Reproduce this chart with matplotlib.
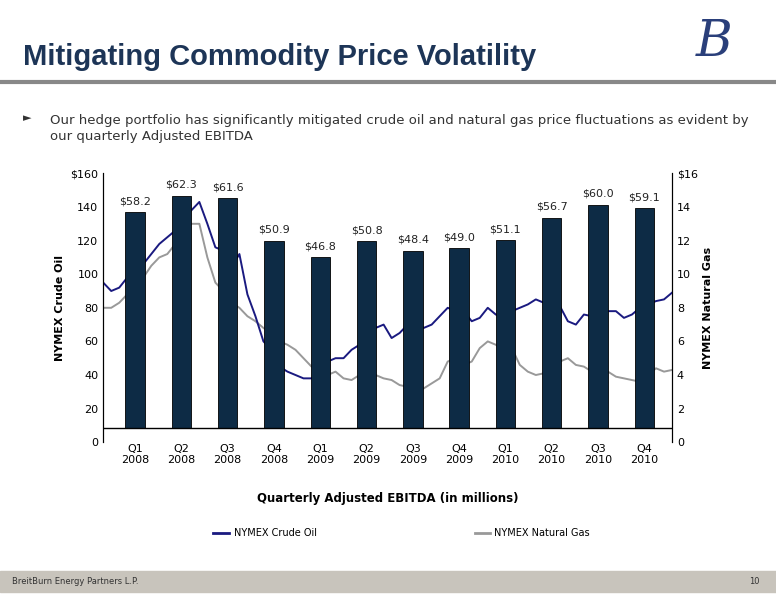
import matplotlib.pyplot as plt
import numpy as np

quarters = ['Q1\n2008', 'Q2\n2008', 'Q3\n2008', 'Q4\n2008', 'Q1\n2009', 'Q2\n2009',
            'Q3\n2009', 'Q4\n2009', 'Q1\n2010', 'Q2\n2010', 'Q3\n2010', 'Q4\n2010']
ebitda = [58.2, 62.3, 61.6, 50.9, 46.8, 50.8, 48.4, 49.0, 51.1, 56.7, 60.0, 59.1]

# half-monthly NYMEX crude oil ($/bbl), Jan 2008 - Dec 2010
oil = [95, 90, 92, 98, 104, 106, 112, 118, 122, 126, 133, 138, 143, 130, 116, 114, 104, 112, 88, 75, 60, 55, 45, 42,
       40, 38, 38, 42, 48, 50, 50, 55, 58, 62, 68, 70, 62, 65, 70, 72, 68, 70, 75, 80, 78, 78, 72, 74,
       80, 76, 74, 78, 80, 82, 85, 83, 80, 81, 72, 70, 76, 75, 76, 78, 78, 74, 76, 80, 82, 84, 85, 89]
# half-monthly NYMEX natural gas ($/MMBtu)
gas = [8, 8, 8.3, 8.8, 9.5, 9.8, 10.5, 11, 11.2, 11.8, 12.5, 13, 13, 11, 9.5, 9, 8.3, 8, 7.5, 7.2, 6.8, 6.5, 6, 5.8,
       5.5, 5, 4.5, 4.2, 4, 4.2, 3.8, 3.7, 4, 4.3, 4, 3.8, 3.7, 3.4, 3.3, 3, 3.2, 3.5, 3.8, 4.8, 5, 4.6, 4.8, 5.6,
       6, 5.8, 5.5, 5.6, 4.6, 4.2, 4, 4.1, 4.3, 4.8, 5, 4.6, 4.5, 4.2, 4.1, 4.2, 3.9, 3.8, 3.7, 3.6, 4.0, 4.4, 4.2, 4.3]

navy = '#0d2b45'
fig = plt.figure(figsize=(7.76, 6), dpi=100)
fig.patch.set_facecolor('white')

# header
fig.text(0.03, 0.905, 'Mitigating Commodity Price Volatility', fontsize=21, fontweight='bold',
         color='#1d3557', family='Liberation Sans', va='center')
fig.text(0.92, 0.93, 'B', fontsize=36, style='italic', color='#2a3f7a', family='DejaVu Serif',
         ha='center', va='center')
fig.add_artist(plt.Line2D([0, 1], [0.863, 0.863], color='#888888', lw=3))
fig.text(0.03, 0.803, '►', fontsize=8, color='#333333', va='center')
fig.text(0.065, 0.81, 'Our hedge portfolio has significantly mitigated crude oil and natural gas price fluctuations as evident by\nour quarterly Adjusted EBITDA',
         fontsize=9.5, color='#333333', va='top', linespacing=1.3)

# footer
fig.add_artist(plt.Rectangle((0, 0.013), 1, 0.035, color='#c8c4bc'))
fig.text(0.015, 0.03, 'BreitBurn Energy Partners L.P.', fontsize=6, color='#333333', va='center')
fig.text(0.965, 0.03, '10', fontsize=6, color='#333333', va='center')

ax = fig.add_axes([0.133, 0.263, 0.733, 0.448])
x_days = np.linspace(-0.19, 12.1, len(oil))
ax.plot(x_days, oil, color='#1a1a80', lw=1.4)
ax.set_ylim(0, 160)
ax.set_xlim(-0.19, 12.1)
ax.set_yticks(range(0, 161, 20))
ax.set_yticklabels(['0', '20', '40', '60', '80', '100', '120', '140', '$160'])
ax.set_ylabel('NYMEX Crude Oil', fontsize=8, fontweight='bold')

ax2 = ax.twinx()
ax2.plot(x_days, gas, color='#999999', lw=1.4)
ax2.set_ylim(0, 16)
ax2.set_yticks(range(0, 17, 2))
ax2.set_yticklabels(['0', '2', '4', '6', '8', '10', '12', '14', '$16'])
ax2.set_ylabel('NYMEX Natural Gas', fontsize=8, fontweight='bold')

ax3 = ax.twinx()
ax3.set_ylim(0, 160 / 2.355)
base = 8.3 / 2.355
xb = np.arange(len(ebitda)) + 0.5
ax3.bar(xb, [v - base for v in ebitda], bottom=base, width=0.42, color=navy, edgecolor='black', lw=0.6)
for xi, v in zip(xb, ebitda):
    ax3.text(xi, v + 1.5, f'${v:.1f}', ha='center', va='bottom', fontsize=8, color='#222222')
ax3.axhline(base, color='black', lw=1)
ax3.set_yticks([])

ax2.set_zorder(0)
ax.set_zorder(1)
ax3.set_zorder(2)
ax.patch.set_visible(False)

ax.set_xticks(xb)
ax.set_xticklabels(quarters, fontsize=8)
ax.tick_params(axis='x', length=0, pad=1)
for a in (ax, ax2, ax3):
    a.spines['top'].set_visible(False)
    a.spines['bottom'].set_visible(False)
    a.tick_params(axis='y', length=0, labelsize=8)
ax3.spines['left'].set_visible(False)
ax3.spines['right'].set_visible(False)

fig.text(0.5, 0.163, 'Quarterly Adjusted EBITDA (in millions)', ha='center', fontsize=8.5, fontweight='bold')
fig.add_artist(plt.Line2D([0.275, 0.295], [0.112, 0.112], color='#1a1a80', lw=2))
fig.text(0.302, 0.112, 'NYMEX Crude Oil', fontsize=7, va='center')
fig.add_artist(plt.Line2D([0.612, 0.632], [0.112, 0.112], color='#999999', lw=2))
fig.text(0.637, 0.112, 'NYMEX Natural Gas', fontsize=7, va='center')

fig.savefig('out.png', dpi=100)
